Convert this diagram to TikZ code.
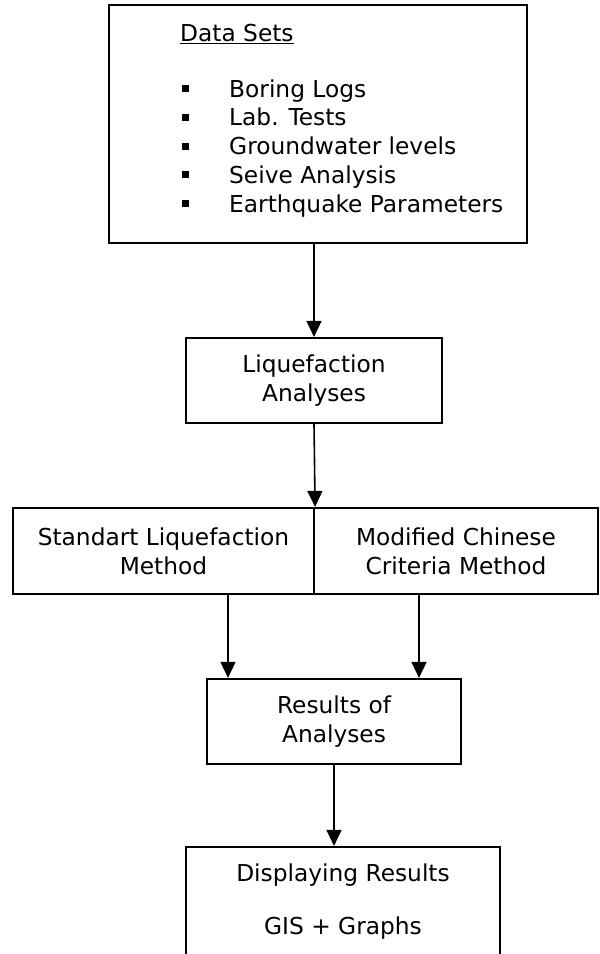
\documentclass[tikz,border=0pt]{standalone}
\usepackage{fontspec}
\setmainfont{DejaVu Sans}
\usetikzlibrary{arrows.meta}

\newcommand{\marca}{\makebox[47pt][l]{\rule[5pt]{7pt}{7pt}}}

\begin{document}
\begin{tikzpicture}[x=1pt, y=-1pt, > = {Triangle[width=15pt,length=16pt]}, font=\fontsize{23.3}{29}\selectfont]
    \tikzstyle{box}=[rectangle, draw, line width=2.2pt, inner sep=0pt, align=center]
    \tikzstyle{item}=[anchor=base west, inner sep=0pt]
    \tikzstyle{seta}=[->, line width=1.6pt]

    \useasboundingbox (0,0) rectangle (600,954);
    \clip (0,0) rectangle (600,954);

    % Caixas
    \node[box, minimum width=418pt, minimum height=238pt] (data) at (318,124) {};
    \node[box, minimum width=256pt, minimum height=85pt] (liq) at (314,380.5) {Liquefaction\\Analyses};
    \node[box, minimum width=301pt, minimum height=86pt] (std) at (163.5,551) {Standart Liquefaction\\Method};
    \node[box, minimum width=284pt, minimum height=86pt] (mcc) at (456,551) {Modified Chinese\\Criteria Method};
    \node[box, minimum width=254pt, minimum height=85pt] (res) at (334,721.5) {Results of\\Analyses};
    \node[box, minimum width=314pt, minimum height=109pt] (disp) at (343,901.5) {Displaying Results\\[24pt]GIS + Graphs};

    % Lista de dados
    \node[item] (h0) at (180,41) {\underline{Data Sets}};
    \node[item] (i1) at (182,97) {\marca Boring Logs};
    \node[item] (i2) at (182,125.75) {\marca Lab. Tests};
    \node[item] (i3) at (182,154.5) {\marca Groundwater levels};
    \node[item] (i4) at (182,183.25) {\marca Seive Analysis};
    \node[item] (i5) at (182,212) {\marca Earthquake Parameters};

    % Setas
    \coordinate (a1) at (228,594);
    \coordinate (a2) at (419,594);
    \draw[seta] (liq.north |- data.south) -- (liq.north);
    \draw[seta] (liq.south) -- (std.north east);
    \draw[seta] (a1) -- (a1 |- res.north);
    \draw[seta] (a2) -- (a2 |- res.north);
    \draw[seta] (res.south) -- (res.south |- disp.north);
\end{tikzpicture}
\end{document}
